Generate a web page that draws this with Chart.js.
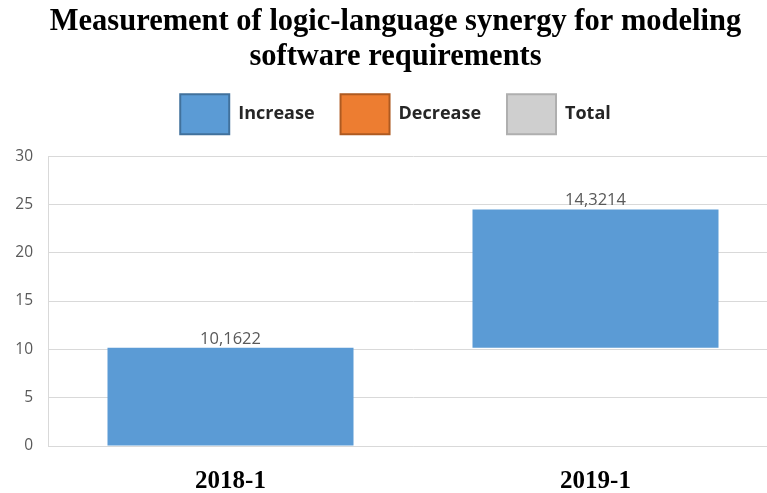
<!DOCTYPE html>
<html>
<head>
<meta charset="utf-8">
<script src="https://cdn.jsdelivr.net/npm/chart.js@4.4.1/dist/chart.umd.min.js"></script>
<style>
  html, body { margin: 0; padding: 0; background: #fff; overflow: hidden; }
  #wrap { width: 778px; height: 493px; position: relative; }
</style>
</head>
<body>
<div id="wrap"><canvas id="grafico"></canvas></div>
<script>
// dados do grafico (waterfall)
const categorias = ['2018-1', '2019-1'];
const incrementos = [10.1622, 14.3214];
const nomesSeries = ['Increase', 'Decrease', 'Total'];
const yMin = 0;
const yMax = 30;
const yPasso = 5;
const tituloLinhas = ['Measurement of logic-language synergy for modeling', 'software requirements'];

const corAumento = '#5B9BD5';
const corQueda = '#ED7D31';
const corTotal = '#CFCFCF';

// barras flutuantes a partir dos incrementos
let acumulado = 0;
const barras = incrementos.map(function (v) {
  const par = [acumulado, acumulado + v];
  acumulado += v;
  return par;
});

const bordasLegenda = ['#41719C', '#AE5A21', '#AFAFAF'];

const rotulosValores = {
  id: 'rotulosValores',
  afterDatasetsDraw(chart) {
    const ctx = chart.ctx;
    const meta = chart.getDatasetMeta(0);
    ctx.save();
    ctx.font = '16.5px "Open Sans"';
    ctx.fillStyle = '#595959';
    ctx.textAlign = 'center';
    ctx.textBaseline = 'alphabetic';
    meta.data.forEach(function (bar, i) {
      const texto = String(incrementos[i]).replace('.', ',');
      ctx.fillText(texto, bar.x, bar.y - 4);
    });
    ctx.restore();
  }
};

const data = {
  labels: categorias,
  datasets: [{
    label: nomesSeries[0],
    data: barras,
    backgroundColor: corAumento,
    borderWidth: 0
  }, {
    label: nomesSeries[1],
    data: [],
    backgroundColor: corQueda,
    borderWidth: 0
  }, {
    label: nomesSeries[2],
    data: [],
    backgroundColor: corTotal,
    borderWidth: 0
  }]
};

const config = {
  type: 'bar',
  data: data,
  plugins: [rotulosValores],
  options: {
    responsive: true,
    maintainAspectRatio: false,
    animation: false,
    devicePixelRatio: 1,
    grouped: false,
    categoryPercentage: 1,
    barPercentage: 0.674,
    layout: { padding: { left: 13, right: 0, top: 0, bottom: 0 } },
    plugins: {
      tooltip: { enabled: false },
      title: {
        display: true,
        text: tituloLinhas,
        color: '#000',
        font: { family: '"Liberation Serif"', size: 30.5, weight: 'bold', lineHeight: 1.15 },
        padding: { top: 5, bottom: -7 }
      },
      legend: {
        display: true,
        position: 'top',
        labels: {
          boxWidth: 49,
          boxHeight: 40,
          padding: 26,
          color: '#262626',
          font: { family: '"Open Sans"', size: 18, weight: 'bold' },
          generateLabels(chart) {
            return chart.data.datasets.map(function (ds, i) {
              return {
                text: ds.label,
                fillStyle: ds.backgroundColor,
                strokeStyle: bordasLegenda[i],
                lineWidth: 2,
                fontColor: '#262626',
                hidden: false,
                datasetIndex: i
              };
            });
          }
        }
      },
      subtitle: {
        display: true,
        text: '',
        weight: 500,
        padding: 0,
        font: { size: 12, lineHeight: 1 }
      }
    },
    scales: {
      x: {
        grid: { display: false },
        border: { display: true, color: '#D9D9D9' },
        ticks: {
          color: '#000',
          font: { family: '"Liberation Serif"', size: 25, weight: 'bold' },
          padding: 13
        },
        afterFit(scale) { scale.height = 47; }
      },
      y: {
        min: yMin,
        max: yMax,
        grid: { color: '#D9D9D9', drawTicks: false },
        border: { display: true, color: '#D9D9D9' },
        ticks: {
          stepSize: yPasso,
          color: '#595959',
          font: { family: '"Open Sans"', size: 15.5 },
          padding: 15
        },
        afterFit(scale) { scale.width = 35; }
      }
    }
  }
};

window.meuGrafico = new Chart(document.getElementById('grafico'), config);
</script>
</body>
</html>
